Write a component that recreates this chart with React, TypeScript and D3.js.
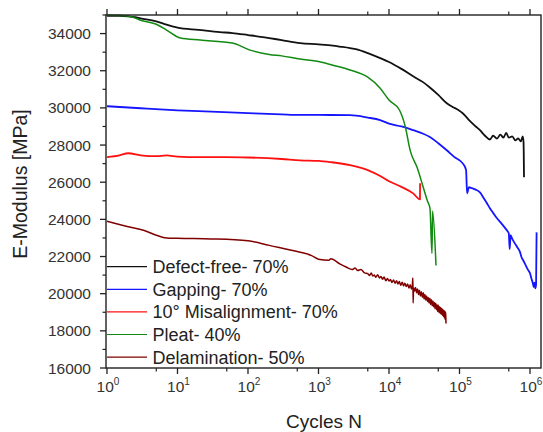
import React from "react";
import * as d3 from "d3";

type Pt = [number, number];

const defectFree: Pt[] = [
  [1, 34960], [1.5, 34960], [2, 34930], [2.5, 34880], [3, 34820], [5, 34660], [7, 34480], [10, 34320],
  [20, 34200], [40, 34080], [60, 34030], [100, 33920], [200, 33760], [300, 33650], [550, 33490],
  [1000, 33420], [1600, 33350], [2000, 33300], [2800, 33220], [3500, 33150], [5000, 32950], [7500, 32680],
  [10000, 32470], [15000, 32100], [22000, 31700], [30000, 31400], [38000, 31100], [50000, 30700],
  [66000, 30250], [80000, 30050], [95000, 29900], [112000, 29700], [140000, 29300], [170000, 29000],
  [195000, 28800], [230000, 28500], [270000, 28300], [300000, 28500], [340000, 28350], [380000, 28560],
  [420000, 28400], [460000, 28660], [500000, 28400], [560000, 28470], [620000, 28250], [680000, 28360],
  [740000, 28200], [790000, 28460], [810000, 28150], [822000, 26270],
];

const gapping: Pt[] = [
  [1, 30090], [3, 29980], [10, 29870], [30, 29800], [100, 29720], [300, 29650], [550, 29620],
  [1000, 29620], [2800, 29610], [5000, 29480], [7500, 29340], [10000, 29150], [15000, 29000],
  [22000, 28800], [30000, 28620], [38000, 28430], [50000, 28100], [66000, 27720], [85000, 27350],
  [112000, 27000], [124000, 26650], [128000, 25400], [136000, 25730], [150000, 25680], [170000, 25600],
  [195000, 25450], [220000, 25150], [245000, 24870], [270000, 24600], [300000, 24350], [340000, 24060],
  [380000, 23850], [420000, 23650], [470000, 23410], [500000, 23250], [515000, 22400], [530000, 23150],
  [560000, 22950], [600000, 22750], [660000, 22500], [720000, 22250], [760000, 21950], [800000, 21800],
  [850000, 21600], [900000, 21400], [950000, 21250], [1000000, 21100], [1050000, 20800], [1100000, 20550],
  [1130000, 20350], [1160000, 20600], [1190000, 20290], [1220000, 20500], [1240000, 23300],
];

const misalignment: Pt[] = [
  [1, 27350], [1.5, 27450], [2, 27560], [3, 27450], [5, 27400], [7, 27440], [10, 27380], [20, 27350],
  [50, 27350], [100, 27330], [300, 27250], [550, 27180], [1000, 27150], [1500, 27080], [2800, 26920],
  [5000, 26650], [7500, 26330], [10000, 26050], [15000, 25750], [22000, 25400], [27500, 25080],
  [27600, 25950],
];

const pleat: Pt[] = [
  [1, 34980], [2, 34950], [3, 34720], [5, 34500], [7, 34190], [11, 33760], [21, 33650], [60, 33490],
  [107, 33110], [200, 32880], [300, 32800], [550, 32630], [1000, 32500], [1600, 32300], [2800, 32040],
  [5000, 31650], [7500, 31060], [10000, 30420], [14000, 29900], [17000, 29000], [20000, 27700],
  [25000, 26800], [30000, 25840], [35000, 25000], [38100, 24600], [40700, 22170], [41500, 24450],
  [46400, 21520],
];

const delamination: Pt[] = [
  [1, 23900], [2, 23600], [3.3, 23410], [5, 23150], [7, 23000], [10, 22980], [30, 22950], [100, 22850],
  [200, 22600], [550, 22230], [800, 22050], [1000, 21850], [1400, 21800], [1500, 21880], [2000, 21600],
  [2500, 21420], [3000, 21300], [3300, 21380], [3600, 21250], [4000, 21300], [4500, 21120],
  [5000, 21080], [5300, 20980], [5600, 21120], [5900, 20950], [6200, 21000], [6500, 20880], [6900, 21020],
  [7300, 20850], [7700, 20920], [8100, 20780], [8500, 20900], [9000, 20700], [9500, 20820], [10000, 20680],
  [10500, 20760], [11000, 20600], [11600, 20740], [12200, 20560], [12800, 20700], [13400, 20520],
  [14000, 20650], [14700, 20450], [15400, 20620], [16100, 20420], [16800, 20560], [17600, 20380],
  [18400, 20520], [19200, 20300], [20000, 20480], [20800, 20250], [21400, 20420], [21800, 20850],
  [22000, 19500], [22300, 20300], [23000, 20150], [23800, 20330], [24600, 20050], [25400, 20250],
  [26200, 19950], [27000, 20180], [27900, 19880], [28800, 20100], [29700, 19800], [30600, 20050],
  [31500, 19720], [32400, 19950], [33300, 19650], [34200, 19880], [35100, 19580], [36000, 19800],
  [37000, 19500], [38000, 19750], [39000, 19420], [40000, 19680], [41000, 19350], [42000, 19600],
  [43000, 19300], [44000, 19520], [45000, 19200], [46000, 19480], [47000, 19150], [48000, 19400],
  [49000, 19050], [50000, 19380], [51000, 19000], [52000, 19300], [53000, 18950], [54000, 19250],
  [55000, 18900], [56000, 19200], [57000, 18850], [58000, 19150], [59000, 18780], [60000, 19100],
  [61000, 18700], [62000, 19050], [62800, 18600], [63500, 19000], [64000, 18700], [64400, 18400],
];

const seriesNames = [
  "Defect-free- 70%",
  "Gapping- 70%",
  "10° Misalignment- 70%",
  "Pleat- 40%",
  "Delamination- 50%",
];
const seriesColors = ["#111111", "#1515ff", "#ff1010", "#118a11", "#800000"];
const seriesWidths = [1.8, 1.8, 1.8, 1.5, 1.5];
const seriesData = [defectFree, gapping, misalignment, pleat, delamination];

const xMajorTicks = [1, 10, 100, 1000, 10000, 100000, 1000000];
const xMinorTicks = [5, 50, 500, 5000, 50000, 500000];
const yMajorTicks = [16000, 18000, 20000, 22000, 24000, 26000, 28000, 30000, 32000, 34000];
const yMinorTicks = [17000, 19000, 21000, 23000, 25000, 27000, 29000, 31000, 33000, 35000];

const W = 543;
const H = 432;
const left = 106;
const right = 541;
const top = 15;
const bottom = 368;

const font = "Arial, 'Liberation Sans', Helvetica, sans-serif";

export default function App() {
  const x = d3.scaleLog().domain([Math.pow(10, -0.014), Math.pow(10, 6.156)]).range([left, right]);
  const y = d3.scaleLinear().domain([16000, 35000]).range([bottom, top]);
  const line = d3
    .line<Pt>()
    .x((d) => x(d[0]))
    .y((d) => y(d[1]))
    .curve(d3.curveMonotoneX);

  const axisColor = "#222";
  const majorLen = 6;
  const minorLen = 3.5;

  return (
    <svg
      width={W}
      height={H}
      style={{ position: "absolute", left: 0, top: 0, background: "#fff" }}
      fontFamily={font}
    >
      <rect x={0} y={0} width={W} height={H} fill="#fff" />
      <g fill="none" strokeLinejoin="round">
        {seriesData.map((s, i) => (
          <path key={i} d={line(s) || ""} stroke={seriesColors[i]} strokeWidth={seriesWidths[i]} />
        ))}
      </g>
      <rect
        x={left}
        y={top}
        width={right - left}
        height={bottom - top}
        fill="none"
        stroke={axisColor}
        strokeWidth={1.4}
      />
      {xMajorTicks.map((t) => (
        <g key={"xm" + t}>
          <line x1={x(t)} x2={x(t)} y1={bottom} y2={bottom + majorLen} stroke={axisColor} strokeWidth={1.3} />
          <line x1={x(t)} x2={x(t)} y1={top} y2={top - majorLen} stroke={axisColor} strokeWidth={1.3} />
          <text x={x(t) + 1} y={392} textAnchor="middle" fontSize={15.5} fill="#333">
            10
            <tspan fontSize={10} dy={-7}>
              {String(Math.round(Math.log10(t)))}
            </tspan>
          </text>
        </g>
      ))}
      {xMinorTicks.map((t) => (
        <g key={"xn" + t}>
          <line x1={x(t)} x2={x(t)} y1={bottom} y2={bottom + minorLen} stroke={axisColor} strokeWidth={1.2} />
          <line x1={x(t)} x2={x(t)} y1={top} y2={top - minorLen} stroke={axisColor} strokeWidth={1.2} />
        </g>
      ))}
      {yMajorTicks.map((t) => (
        <g key={"ym" + t}>
          <line x1={left} x2={left - majorLen} y1={y(t)} y2={y(t)} stroke={axisColor} strokeWidth={1.3} />
          <text x={91} y={y(t)} dy="0.36em" textAnchor="end" fontSize={15.5} fill="#333">
            {t}
          </text>
        </g>
      ))}
      {yMinorTicks.map((t) => (
        <line key={"yn" + t} x1={left} x2={left - minorLen} y1={y(t)} y2={y(t)} stroke={axisColor} strokeWidth={1.2} />
      ))}
      <text x={324} y={428} textAnchor="middle" fontSize={19} fill="#222">
        Cycles N
      </text>
      <text transform={`translate(27, 184) rotate(-90)`} textAnchor="middle" fontSize={19.5} fill="#222">
        E-Modulus [MPa]
      </text>
      {seriesNames.map((name, i) => {
        const ly = 266.7 + i * 22.6;
        return (
          <g key={name}>
            <line x1={107} x2={147} y1={ly} y2={ly} stroke={seriesColors[i]} strokeWidth={1.2} />
            <text x={152.5} y={ly} dy="0.36em" fontSize={18} fill="#222">
              {name}
            </text>
          </g>
        );
      })}
    </svg>
  );
}
